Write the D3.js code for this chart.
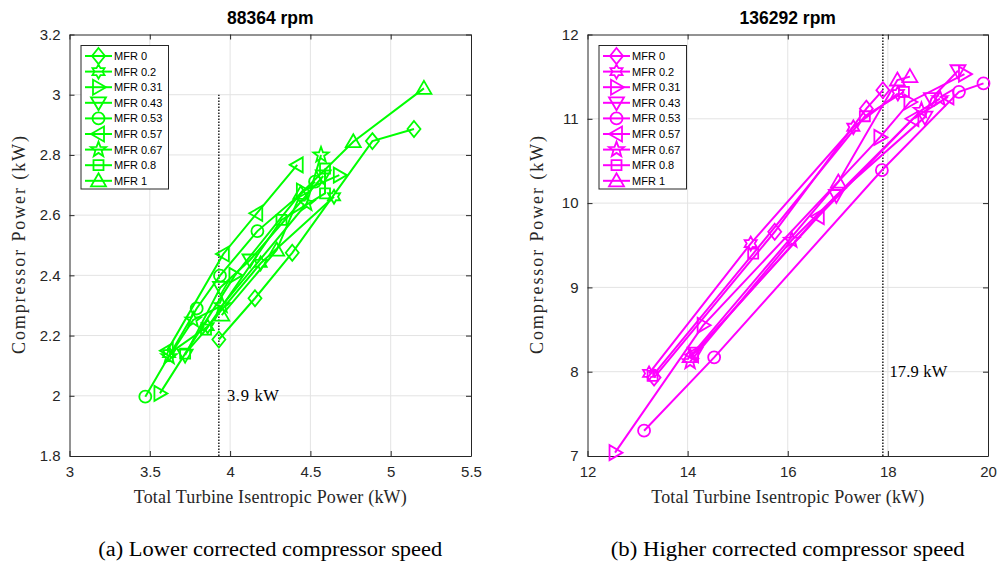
<!DOCTYPE html>
<html><head><meta charset="utf-8">
<script src="https://cdn.jsdelivr.net/npm/d3@7"></script>
<style>body{margin:0;background:#fff}svg{display:block}</style>
</head><body>
<script>
const seriesNames = ["MFR 0","MFR 0.2","MFR 0.31","MFR 0.43","MFR 0.53","MFR 0.57","MFR 0.67","MFR 0.8","MFR 1"];
const markerTypes = ["diamond","hexagram","triright","tridown","circle","trileft","pentagram","square","triup"];

// Left panel (88364 rpm): [turbine isentropic power, compressor power]
const lowMFR0   = [[3.93,2.187],[4.155,2.324],[4.387,2.475],[4.886,2.846],[5.145,2.886]];
const lowMFR02  = [[3.62,2.14],[3.86,2.23],[4.19,2.44],[4.647,2.661]];
const lowMFR031 = [[3.563,2.008],[4.03,2.40],[4.45,2.68],[4.68,2.733]];
const lowMFR043 = [[3.72,2.135],[3.94,2.36],[4.124,2.451],[4.58,2.73]];
const lowMFR053 = [[3.472,1.997],[3.792,2.29],[3.937,2.399],[4.17,2.547],[4.529,2.711]];
const lowMFR057 = [[3.609,2.15],[3.958,2.471],[4.166,2.606],[4.418,2.767]];
const lowMFR067 = [[3.62,2.13],[3.77,2.252],[3.95,2.30],[4.477,2.639],[4.566,2.80]];
const lowMFR08  = [[3.72,2.14],[3.85,2.22],[4.32,2.584],[4.591,2.672],[4.591,2.755]];
const lowMFR1   = [[3.948,2.268],[4.29,2.484],[4.44,2.672],[4.767,2.844],[5.207,3.021]];

// Right panel (136292 rpm)
const highMFR0   = [[13.33,7.93],[15.74,9.66],[17.57,11.12],[17.90,11.34]];
const highMFR02  = [[13.23,7.98],[15.26,9.52],[17.31,10.90],[18.20,11.30]];
const highMFR031 = [[12.55,7.04],[14.31,8.55],[17.84,10.78],[18.44,11.20],[19.53,11.53]];
const highMFR043 = [[14.15,8.22],[16.97,10.09],[18.74,11.02],[18.87,11.24],[19.40,11.57]];
const highMFR053 = [[13.13,7.30],[14.53,8.17],[17.88,10.39],[19.42,11.32],[19.91,11.42]];
const highMFR057 = [[14.10,8.20],[16.61,9.84],[18.50,11.00],[19.20,11.26]];
const highMFR067 = [[14.05,8.12],[16.08,9.56],[18.67,11.10],[19.04,11.24]];
const highMFR08  = [[13.30,7.95],[15.31,9.40],[17.54,11.03],[18.32,11.32]];
const highMFR1   = [[14.05,8.18],[17.01,10.25],[18.19,11.46],[18.44,11.50]];

const lowXTicks = [3,3.5,4,4.5,5,5.5];
const lowYTicks = [1.8,2,2.2,2.4,2.6,2.8,3,3.2];
const highXTicks = [12,14,16,18,20];
const highYTicks = [7,8,9,10,11,12];

const lowLine = {x:3.93, y0:1.8, y1:3.0, label:"3.9 kW", lx:3.98, ly:2.0};
const highLine = {x:17.9, y0:7, y1:12, label:"17.9 kW", lx:18.03, ly:8.0};

const W=1000,H=562;
const svg=d3.select("body").append("svg").attr("width",W).attr("height",H);

function markerPath(type){
  const p=d3.path();
  switch(type){
    case "diamond": p.moveTo(0,-8);p.lineTo(6.5,0);p.lineTo(0,8);p.lineTo(-6.5,0);p.closePath();break;
    case "circle": p.arc(0,0,6,0,2*Math.PI);break;
    case "square": p.rect(-5,-5,10,10);break;
    case "triup": p.moveTo(0,-7.5);p.lineTo(7.5,5.5);p.lineTo(-7.5,5.5);p.closePath();break;
    case "tridown": p.moveTo(0,7.5);p.lineTo(7.5,-5.5);p.lineTo(-7.5,-5.5);p.closePath();break;
    case "triright": p.moveTo(7.5,0);p.lineTo(-5.5,7.5);p.lineTo(-5.5,-7.5);p.closePath();break;
    case "trileft": p.moveTo(-7.5,0);p.lineTo(5.5,7.5);p.lineTo(5.5,-7.5);p.closePath();break;
    case "pentagram": {
      for(let i=0;i<10;i++){const r=i%2?3.3:8;const a=-Math.PI/2+i*Math.PI/5;
        i?p.lineTo(r*Math.cos(a),r*Math.sin(a)):p.moveTo(r*Math.cos(a),r*Math.sin(a));}
      p.closePath();break;}
    case "hexagram": {
      for(let i=0;i<12;i++){const r=i%2?4:7;const a=-Math.PI/2+i*Math.PI/6;
        i?p.lineTo(r*Math.cos(a),r*Math.sin(a)):p.moveTo(r*Math.cos(a),r*Math.sin(a));}
      p.closePath();break;}
  }
  return p.toString();
}

function panel(opt){
  const g=svg.append("g");
  const x=d3.scaleLinear().domain(opt.xd).range([opt.left,opt.right]);
  const y=d3.scaleLinear().domain(opt.yd).range([456,34.5]);
  const axc="#262626";
  g.selectAll(".gx").data(opt.xt.slice(1,-1)).join("line").attr("x1",d=>x(d)).attr("x2",d=>x(d))
    .attr("y1",y.range()[0]).attr("y2",y.range()[1]).attr("stroke","#e3e3e3").attr("stroke-width",1);
  g.selectAll(".gy").data(opt.yt.slice(1,-1)).join("line").attr("y1",d=>y(d)).attr("y2",d=>y(d))
    .attr("x1",opt.left).attr("x2",opt.right).attr("stroke","#e3e3e3").attr("stroke-width",1);
  const fmt=d=>String(d);
  const ax=g.append("g").attr("transform",`translate(0,${y.range()[0]})`)
    .call(d3.axisBottom(x).tickValues(opt.xt).tickFormat(fmt).tickSizeInner(-5).tickSizeOuter(0).tickPadding(10));
  const axTop=g.append("g").attr("transform",`translate(0,${y.range()[1]})`)
    .call(d3.axisTop(x).tickValues(opt.xt).tickFormat("").tickSizeInner(-5).tickSizeOuter(0));
  const ay=g.append("g").attr("transform",`translate(${opt.left},0)`)
    .call(d3.axisLeft(y).tickValues(opt.yt).tickFormat(fmt).tickSizeInner(-5).tickSizeOuter(0).tickPadding(9));
  const ayR=g.append("g").attr("transform",`translate(${opt.right},0)`)
    .call(d3.axisRight(y).tickValues(opt.yt).tickFormat("").tickSizeInner(-5).tickSizeOuter(0));
  [ax,axTop,ay,ayR].forEach(a=>{a.selectAll("path").attr("stroke",axc).attr("stroke-width",1);
    a.selectAll("line").attr("stroke",axc);
    a.selectAll("text").attr("fill","#262626").attr("font-family","Liberation Sans, Arial, sans-serif").attr("font-size",15);});
  g.append("line").attr("x1",x(opt.vl.x)).attr("x2",x(opt.vl.x)).attr("y1",y(opt.vl.y0)).attr("y2",y(opt.vl.y1))
    .attr("stroke","#000").attr("stroke-width",1.3).attr("stroke-dasharray","1.5,1.5");
  g.append("text").attr("x",x(opt.vl.lx)).attr("y",y(opt.vl.ly)+5).text(opt.vl.label)
    .attr("font-family","Liberation Serif, serif").attr("font-size",16.5).attr("fill","#000")
    .attr("textLength",opt.vl.tl).attr("lengthAdjust","spacing");
  const line=d3.line().x(d=>x(d[0])).y(d=>y(d[1]));
  opt.series.forEach((s,i)=>{
    g.append("path").attr("d",line(s)).attr("fill","none").attr("stroke",opt.color).attr("stroke-width",2);
    g.selectAll(null).data(s).join("path").attr("d",markerPath(markerTypes[i]))
      .attr("transform",d=>`translate(${x(d[0])},${y(d[1])})`)
      .attr("fill","none").attr("stroke",opt.color).attr("stroke-width",1.8);
  });
  const lg=g.append("g").attr("transform",`translate(${opt.left+11.5},45.5)`);
  lg.append("rect").attr("x",0).attr("y",0).attr("width",87.5).attr("height",143.5)
    .attr("fill","#fff").attr("stroke","#262626").attr("stroke-width",1);
  seriesNames.forEach((n,i)=>{
    const yy=10.5+i*15.6;
    lg.append("line").attr("x1",4).attr("x2",31).attr("y1",yy).attr("y2",yy).attr("stroke",opt.color).attr("stroke-width",2);
    lg.append("path").attr("d",markerPath(markerTypes[i])).attr("transform",`translate(17.5,${yy})`)
      .attr("fill","none").attr("stroke",opt.color).attr("stroke-width",1.8);
    lg.append("text").attr("x",33).attr("y",yy+4).text(n).attr("font-family","Liberation Sans, Arial, sans-serif")
      .attr("font-size",11).attr("fill","#000");
  });
  const cx=(opt.left+opt.right)/2;
  g.append("text").attr("x",cx).attr("y",24).attr("text-anchor","middle").text(opt.title)
    .attr("font-family","Liberation Sans, Arial, sans-serif").attr("font-weight","bold").attr("font-size",17.5).attr("fill","#000");
  g.append("text").attr("x",cx).attr("y",503).attr("text-anchor","middle").text("Total Turbine Isentropic Power (kW)")
    .attr("font-family","Liberation Serif, serif").attr("font-size",18).attr("fill","#262626")
    .attr("textLength",273).attr("lengthAdjust","spacing");
  g.append("text").attr("transform",`translate(${opt.left-45},245) rotate(-90)`).attr("text-anchor","middle")
    .text("Compressor Power (kW)").attr("font-family","Liberation Serif, serif").attr("font-size",18).attr("fill","#262626")
    .attr("textLength",218).attr("lengthAdjust","spacing");
  g.append("text").attr("x",cx).attr("y",556).attr("text-anchor","middle").text(opt.caption)
    .attr("font-family","Liberation Serif, serif").attr("font-size",20.5).attr("fill","#000")
    .attr("textLength",opt.capLen).attr("lengthAdjust","spacingAndGlyphs");
}

panel({left:69.5,right:471,xd:[3,5.5],yd:[1.8,3.2],xt:lowXTicks,yt:lowYTicks,color:"#00ff00",
  series:[lowMFR0,lowMFR02,lowMFR031,lowMFR043,lowMFR053,lowMFR057,lowMFR067,lowMFR08,lowMFR1],
  vl:Object.assign({tl:52},lowLine),title:"88364 rpm",caption:"(a) Lower corrected compressor speed",capLen:344});
panel({left:587.5,right:988,xd:[12,20],yd:[7,12],xt:highXTicks,yt:highYTicks,color:"#ff00ff",
  series:[highMFR0,highMFR02,highMFR031,highMFR043,highMFR053,highMFR057,highMFR067,highMFR08,highMFR1],
  vl:Object.assign({tl:58},highLine),title:"136292 rpm",caption:"(b) Higher corrected compressor speed",capLen:354});
</script>
</body></html>
